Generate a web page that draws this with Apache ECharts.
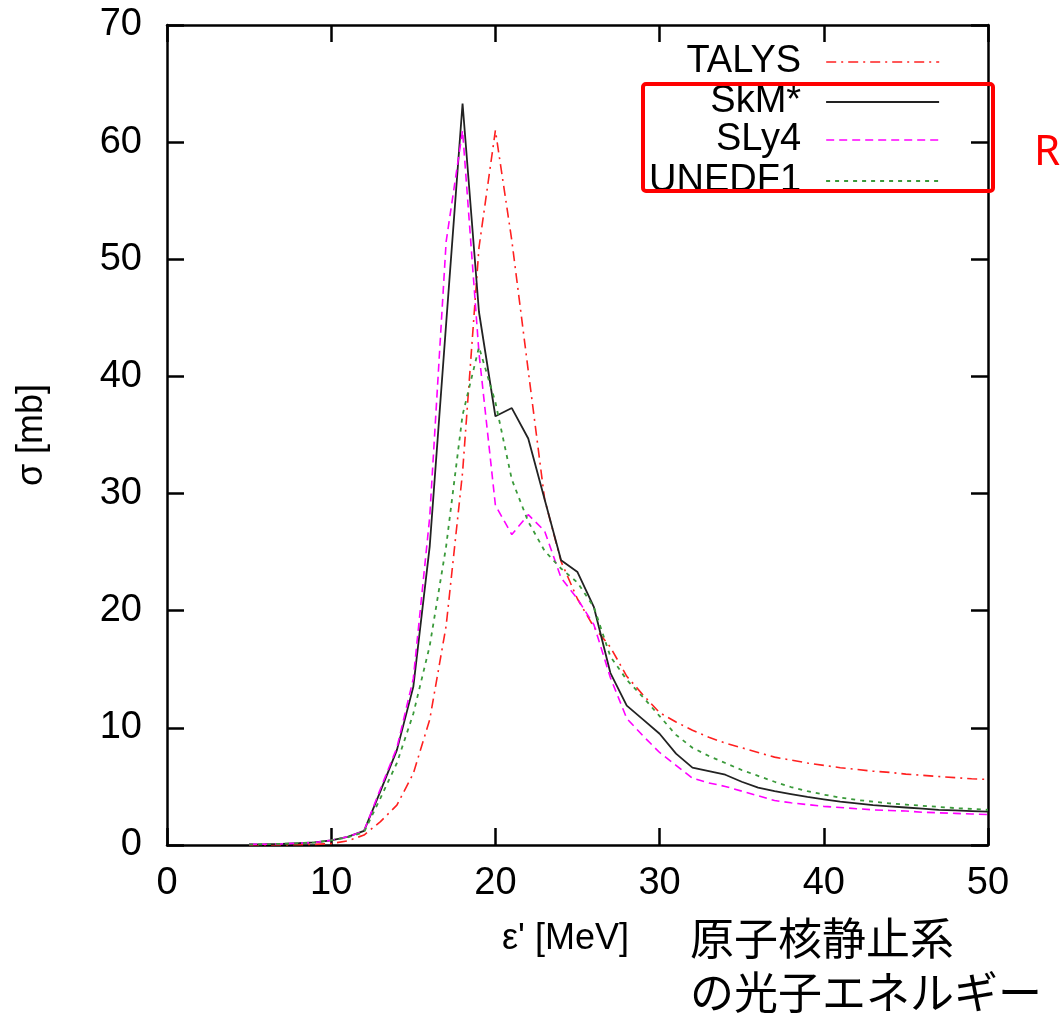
<!DOCTYPE html>
<html>
<head>
<meta charset="utf-8">
<script src="https://cdn.jsdelivr.net/npm/echarts@6/dist/echarts.min.js"></script>
<style>
html,body{margin:0;padding:0;background:#fff;}
#chart{width:1061px;height:1019px;}
</style>
</head>
<body>
<div id="chart"></div>
<script>
const energies = [5,6,7,8,9,10,11,12,13,14,15,16,17,18,19,20,21,22,23,24,25,26,27,28,29,30,31,32,33,34,35,36,37,38,39,40,41,42,43,44,45,46,47,48,49,50];
const talys  = [0.0,0.0,0.01,0.02,0.05,0.12,0.35,0.85,2.0,3.4,6.1,10.7,18.7,31.8,51.0,61.0,51.6,40.5,29.5,24.2,21.0,18.6,16.9,14.4,12.8,11.3,10.5,9.8,9.2,8.7,8.3,7.9,7.5,7.25,7.0,6.8,6.6,6.45,6.3,6.2,6.05,5.95,5.85,5.75,5.65,5.6];
const skm    = [0.05,0.07,0.1,0.15,0.22,0.4,0.7,1.2,4.6,8.1,13.5,25.5,44.5,63.3,45.5,36.6,37.3,34.7,29.5,24.3,23.3,20.3,14.7,11.9,10.7,9.5,7.8,6.6,6.3,6.0,5.4,4.9,4.6,4.35,4.1,3.9,3.7,3.55,3.4,3.3,3.2,3.1,3.0,2.95,2.9,2.85];
const sly4   = [0.05,0.07,0.1,0.15,0.22,0.4,0.7,1.2,4.8,8.3,14.2,28.0,51.5,61.0,42.0,29.0,26.5,28.2,26.8,22.8,21.0,18.8,14.3,10.8,9.3,7.9,6.8,5.7,5.3,5.0,4.6,4.2,3.8,3.6,3.45,3.3,3.2,3.1,3.0,2.95,2.9,2.8,2.75,2.7,2.65,2.6];
const unedf1 = [0.05,0.07,0.1,0.15,0.22,0.4,0.65,1.1,4.0,7.0,11.2,17.0,25.5,36.7,42.5,37.8,31.2,27.6,25.1,23.6,22.4,20.3,16.1,14.1,12.6,11.0,9.4,8.3,7.6,7.0,6.4,5.9,5.4,4.95,4.6,4.3,4.05,3.85,3.7,3.55,3.45,3.35,3.25,3.15,3.08,3.0];
const seriesNames = ['TALYS','SkM*','SLy4','UNEDF1'];
const xTicks = {min:0, max:50, interval:10};
const yTicks = {min:0, max:70, interval:10};

const FONT = '"Liberation Sans", Arial, sans-serif';
const chart = echarts.init(document.getElementById('chart'), null, {renderer:'canvas'});
const toPairs = arr => energies.map((e,i)=>[e, arr[i]]);

const styles = [
  {color:'#ff2020', type:[10,5,2,5], width:1.6},
  {color:'#222222', type:'solid', width:1.8},
  {color:'#ff00ff', type:[8,5], width:1.6},
  {color:'#3a9a3a', type:[4,5], width:1.8}
];
const datas = [talys, skm, sly4, unedf1];
const rowY = [62, 102, 140, 181];

const axisLineStyle = {color:'#000', width:2.5};
function baseX(pos, labels){
  return {
    type:'value', position:pos, min:xTicks.min, max:xTicks.max, interval:xTicks.interval,
    axisLine:{show:true, onZero:false, lineStyle:axisLineStyle},
    axisTick:{show:true, inside:true, length:17, lineStyle:axisLineStyle},
    axisLabel:{show:labels, color:'#000', fontSize:38, fontFamily:FONT, margin:20},
    splitLine:{show:false}
  };
}
function baseY(pos, labels){
  return {
    type:'value', position:pos, min:yTicks.min, max:yTicks.max, interval:yTicks.interval,
    axisLine:{show:true, onZero:false, lineStyle:axisLineStyle},
    axisTick:{show:true, inside:true, length:17, lineStyle:axisLineStyle},
    axisLabel:{show:labels, color:'#000', fontSize:38, fontFamily:FONT, margin:25},
    splitLine:{show:false}
  };
}
const xMain = baseX('bottom', true);
xMain.name = "ε' [MeV]";
xMain.nameLocation = 'middle';
xMain.nameGap = 76;
xMain.nameTextStyle = {color:'#000', fontSize:36, fontFamily:FONT, padding:[0,24,0,0]};
const yMain = baseY('left', true);
yMain.name = 'σ [mb]';
yMain.nameLocation = 'middle';
yMain.nameGap = 117;
yMain.nameTextStyle = {color:'#000', fontSize:36, fontFamily:FONT};

const option = {
  backgroundColor:'#fff',
  animation:false,
  grid:{left:167, right:73, top:25, bottom:174, show:false},
  xAxis:[xMain, baseX('top', false)],
  yAxis:[yMain, baseY('right', false)],
  legend: seriesNames.map((n,i)=>({
    data:[n], orient:'vertical', align:'right', right:121, top:rowY[i]-20,
    padding:0, itemWidth:113, itemHeight:12, selectedMode:false,
    itemStyle:{opacity:0},
    lineStyle:{color:styles[i].color, type:styles[i].type, width:styles[i].width, opacity:1},
    textStyle:{color:'#000', fontSize:38, fontFamily:FONT, lineHeight:40, padding:[0,20,0,0]}
  })),
  series: seriesNames.map((n,i)=>({
    name:n, type:'line', xAxisIndex:0, yAxisIndex:0,
    data: toPairs(datas[i]), symbol:'none', smooth:false,
    lineStyle:{color:styles[i].color, type:styles[i].type, width:styles[i].width},
    itemStyle:{color:styles[i].color},
    z: 3+i
  })),
  graphic:[
    {type:'text', left:690, top:916, style:{text:'原子核静止系', fill:'#000', fontSize:44, fontFamily:'"Noto Sans CJK JP", sans-serif'}},
    {type:'text', left:690, top:970, style:{text:'の光子エネルギー', fill:'#000', fontSize:44, fontFamily:'"Noto Sans CJK JP", sans-serif'}},
    {type:'text', left:1034, top:132, style:{text:'R', fill:'#ff0000', fontSize:42, fontFamily:'"Noto Sans", sans-serif'}},
    {type:'rect', z:100, shape:{x:643, y:84, width:350, height:107, r:3}, style:{fill:'none', stroke:'#ff0000', lineWidth:4}}
  ]
};
chart.setOption(option);
</script>
</body>
</html>
